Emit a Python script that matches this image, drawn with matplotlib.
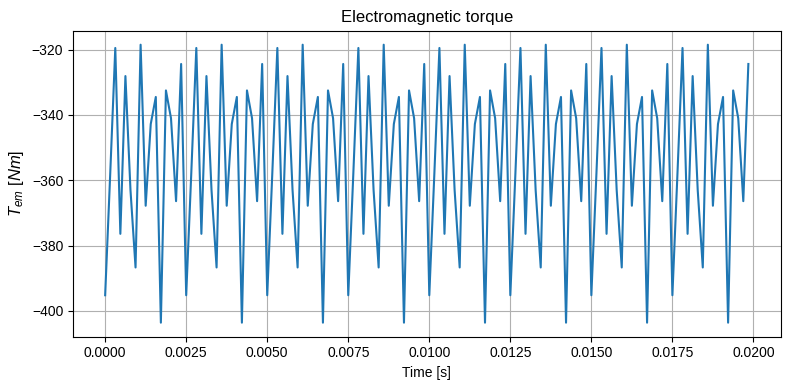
import numpy as np
import matplotlib
matplotlib.use("Agg")
import matplotlib.pyplot as plt

plt.rcParams['font.family'] = ['Liberation Sans', 'DejaVu Sans']
plt.rcParams['mathtext.fontset'] = 'custom'
plt.rcParams['mathtext.rm'] = 'Liberation Sans'
plt.rcParams['mathtext.it'] = 'Liberation Sans:italic'

# one electrical period (16 samples), repeated 8 times
period = [-395.2, -358.0, -319.5, -376.4, -328.1, -363.0, -386.7, -318.5,
          -367.8, -342.8, -334.5, -403.6, -332.5, -341.0, -366.4, -324.4]
n_periods = 8
dt = 0.0025 / 16

torque = np.tile(period, n_periods)
t = np.arange(len(torque)) * dt

fig = plt.figure(figsize=(7.9, 3.9), dpi=100)
plt.plot(t, torque)
plt.title("Electromagnetic torque")
plt.xlabel("Time [s]")
plt.ylabel(r"$T_{em}\ [Nm]$", fontsize=12)
plt.grid()
plt.subplots_adjust(left=0.0924, right=0.988, top=0.921, bottom=0.137)
plt.savefig("out.png")
